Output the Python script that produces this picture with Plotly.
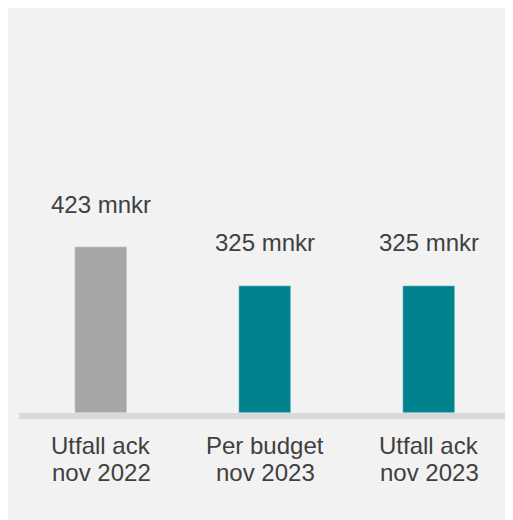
import plotly.graph_objects as go

categories = ["Utfall ack<br>nov 2022", "Per budget<br>nov 2023", "Utfall ack<br>nov 2023"]
values = [423, 325, 325]
value_labels = ["423 mnkr", "325 mnkr", "325 mnkr"]
bar_colors = ["#a6a6a6", "#00838f", "#00838f"]

FONT = "Liberation Sans, Arial, sans-serif"
TXT = "#404040"

fig = go.Figure()
fig.add_trace(go.Bar(
    x=categories, y=values, marker_color=bar_colors, width=0.317,
    hoverinfo="skip",
))

for c, v, t in zip(categories, values, value_labels):
    fig.add_annotation(x=c, y=v, text=t, showarrow=False, yshift=43,
                       font=dict(family=FONT, size=24, color=TXT),
                       xanchor="center", yanchor="middle")

# category labels, one annotation per line (tighter line spacing)
for c in categories:
    for i, line in enumerate(c.split("<br>")):
        fig.add_annotation(x=c, y=0, yref="paper", text=line, showarrow=False,
                           yshift=-32 - 27 * i,
                           font=dict(family=FONT, size=24, color=TXT),
                           xanchor="center", yanchor="middle")

# baseline
fig.add_shape(type="line", xref="paper", yref="paper",
              x0=0, x1=1.002, y0=-0.0074, y1=-0.0074,
              line=dict(color="#d9d9d9", width=6), layer="below")

fig.update_layout(
    width=505, height=512,
    margin=dict(l=11, r=2, t=0, b=107),
    paper_bgcolor="#f2f2f2", plot_bgcolor="rgba(0,0,0,0)",
    showlegend=False,
    bargap=0,
    xaxis=dict(showgrid=False, zeroline=False, showline=False, ticks="",
               showticklabels=False,
               range=[-0.5, 2.5], fixedrange=True),
    yaxis=dict(range=[0, 1034.5], showgrid=False, zeroline=False,
               showticklabels=False, ticks="", fixedrange=True),
)

fig.write_html("out.html")
